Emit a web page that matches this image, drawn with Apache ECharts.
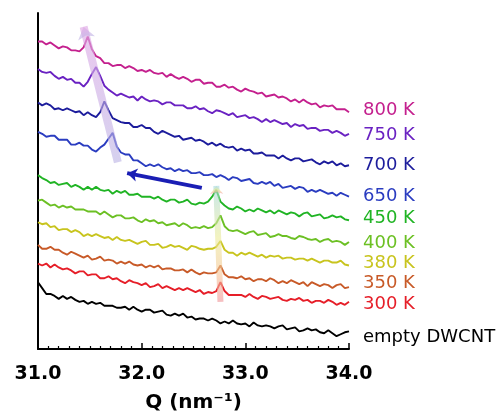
<!DOCTYPE html>
<html>
<head>
<meta charset="utf-8">
<script src="https://cdn.jsdelivr.net/npm/echarts@6/dist/echarts.min.js"></script>
<style>html,body{margin:0;padding:0;background:#fff;}#c{width:498px;height:418px;}</style>
</head>
<body>
<div id="c"></div>
<script>
// Q grid (nm^-1)
const q = [31.00,31.04,31.08,31.12,31.16,31.20,31.24,31.28,31.32,31.36,
31.40,31.44,31.48,31.52,31.56,31.60,31.64,31.68,31.72,31.76,
31.80,31.84,31.88,31.92,31.96,32.00,32.04,32.08,32.12,32.16,
32.20,32.24,32.28,32.32,32.36,32.40,32.44,32.48,32.52,32.56,
32.60,32.64,32.68,32.72,32.76,32.80,32.84,32.88,32.92,32.96,
33.00,33.04,33.08,33.12,33.16,33.20,33.24,33.28,33.32,33.36,
33.40,33.44,33.48,33.52,33.56,33.60,33.64,33.68,33.72,33.76,
33.80,33.84,33.88,33.92,33.96,34.00];

// offset intensities (arb. units)
const i800 = [313,313,310,312,309,306,308,307,304,304,303,307,318,305,298,296,291,291,288,289,
289,286,288,286,283,284,282,284,281,280,281,277,280,277,275,277,275,272,274,274,
270,271,271,267,267,269,266,267,264,262,265,263,262,260,261,257,258,259,256,257,
255,252,254,251,254,251,249,250,246,248,247,248,244,244,244,241];
const i750 = [285,282,281,282,278,275,277,274,275,271,271,267,272,280,287,278,268,264,261,258,
260,258,256,257,253,257,254,252,253,252,249,251,251,248,248,248,245,245,247,244,
245,242,240,243,242,240,238,240,236,237,238,235,236,234,231,234,231,233,231,229,
230,226,229,227,228,224,225,225,222,223,223,220,222,220,217,219];
const i700 = [251,248,250,248,244,245,243,245,243,241,242,238,241,238,236,241,252,243,235,233,
231,230,230,226,226,228,225,225,221,219,222,220,218,216,217,213,214,215,212,213,
211,208,210,207,209,206,205,206,202,204,202,203,199,199,200,197,197,197,194,197,
194,192,194,194,191,192,193,190,188,191,189,191,187,189,186,187];
const i650 = [221,219,216,217,217,213,213,213,208,208,210,207,207,203,201,205,208,214,220,206,
200,198,198,192,192,189,186,188,186,188,185,183,184,181,183,181,182,179,179,180,
177,177,178,175,177,175,172,175,174,171,172,173,169,168,170,168,170,166,168,164,
165,166,163,165,164,160,162,160,162,160,158,159,156,159,157,155];
const i450 = [177,174,172,169,170,167,168,169,165,167,165,162,165,162,165,162,161,162,158,161,
159,161,157,157,158,155,155,155,153,155,152,150,152,152,149,150,152,148,147,149,
148,150,155,162,150,146,143,142,145,143,140,142,140,143,141,139,141,138,141,139,
137,139,138,135,138,139,135,136,137,133,134,136,134,135,132,131];
const i400 = [151,152,149,146,147,144,146,144,145,142,142,142,140,140,140,137,140,137,134,136,
136,133,133,134,131,129,132,130,131,128,129,126,127,128,125,128,126,123,124,123,
125,123,124,128,136,125,121,120,121,119,117,119,120,116,117,118,114,115,117,115,
115,113,112,115,114,112,111,112,109,111,112,109,110,109,106,109];
const i380 = [129,127,128,124,125,121,122,122,119,121,119,115,117,115,117,115,113,114,111,114,
111,110,111,109,107,109,110,106,106,107,103,104,106,104,105,103,101,105,104,102,
101,102,102,104,110,101,98,98,95,98,96,98,96,94,96,93,95,94,95,92,
93,93,91,92,92,90,92,90,88,90,90,88,88,90,86,85];
const i350 = [106,102,102,104,101,101,98,96,99,97,95,93,95,91,92,94,90,91,90,87,
89,87,89,86,85,86,83,85,83,85,81,82,82,80,80,81,78,81,78,76,
78,77,77,78,85,76,73,73,72,74,71,72,69,71,71,69,72,70,67,69,
67,70,68,66,68,64,68,66,64,66,65,62,65,66,62,63];
const i300 = [87,85,87,83,86,83,81,82,80,77,79,79,75,76,76,72,72,74,71,72,
69,67,70,68,67,65,67,63,64,66,62,64,62,60,62,60,62,60,58,60,
56,58,57,59,68,59,55,55,55,55,53,56,53,51,54,53,51,52,53,50,
49,51,50,52,49,50,47,49,49,47,50,48,45,47,45,48];
const iEmpty = [68,62,56,56,54,51,54,51,53,50,48,49,46,48,46,47,44,44,44,42,
42,43,40,43,40,38,40,40,37,38,39,35,34,36,34,36,32,33,30,31,
31,29,31,29,26,28,26,29,26,25,26,23,27,24,23,24,23,21,23,24,
20,21,22,18,19,21,19,20,17,16,19,16,13,15,17,18];

const names = ['800 K','750 K','700 K','650 K','450 K','400 K','380 K','350 K','300 K','empty DWCNT'];
const values = [i800,i750,i700,i650,i450,i400,i380,i350,i300,iEmpty];
const colors = ['#c4208e','#6a22c2','#1c1c9c','#2a3cc0','#20b424','#6cc024','#c8c41e','#c85a28','#e61e28','#000000'];
const labelDy = [-2,1,0,0,-2,1,-2,-4,2,6];

// annotation arrows [start, end] in data coords
const arrowShift = [[31.77,190],[31.44,328]];
const arrowMove = [[32.58,164],[31.86,179]];
const arrowRise = [[32.76,48],[32.72,166]];

const FONT = 'DejaVu Sans';
const chart = echarts.init(document.getElementById('c'), null, {renderer:'canvas'});

const series = names.map((n, s) => ({
  name: n, type: 'line', showSymbol: false, symbol: 'none', animation: false,
  data: q.map((x, i) => [x, values[s][i]]),
  lineStyle: {color: colors[s], width: 1.9},
  itemStyle: {color: colors[s]},
  z: 3,
  endLabel: {
    show: true, formatter: n, color: colors[s], fontSize: 18, fontFamily: FONT,
    distance: 14, offset: [0, labelDy[s]]
  }
}));

series.push({
  type: 'line', data: [], animation: false, z: 1, silent: true,
  markLine: {
    silent: true, animation: false, label: {show: false},
    symbol: ['none', 'arrow'],
    data: [
      [{coord: arrowShift[0], symbol:'none', lineStyle: {width: 8, type:'solid',
          color: {type:'linear', x:0, y:0, x2:0, y2:1, colorStops:[
            {offset:0, color:'rgba(225,170,230,0.65)'},{offset:1, color:'rgba(185,178,228,0.6)'}]}}},
       {coord: arrowShift[1], symbol:'arrow', symbolSize:[13,12]}],
      [{coord: arrowMove[0], symbol:'none', lineStyle: {width: 4, type:'solid', color:'#1a1eb4'}},
       {coord: arrowMove[1], symbol:'arrow', symbolSize:[10,10]}],
      [{coord: arrowRise[0], symbol:'none', lineStyle: {width: 6, type:'solid',
          color: {type:'linear', x:0, y:0, x2:0, y2:1, colorStops:[
            {offset:0, color:'rgba(160,215,225,0.6)'},
            {offset:0.45, color:'rgba(235,235,150,0.6)'},
            {offset:0.75, color:'rgba(245,195,150,0.6)'},
            {offset:1, color:'rgba(240,150,160,0.65)'}]}}},
       {coord: arrowRise[1], symbol:'arrow', symbolSize:[10,8]}]
    ]
  }
});

chart.setOption({
  animation: false,
  backgroundColor: '#ffffff',
  grid: {left: 38, top: 13, width: 311, height: 342, containLabel: false},
  xAxis: {
    type: 'value', min: 31, max: 34, interval: 1,
    axisLine: {show: true, lineStyle: {color: '#000', width: 2}},
    axisTick: {show: true, inside: true, length: 6, lineStyle: {color:'#000', width: 1.5}},
    minorTick: {show: true, splitNumber: 10, length: 3, lineStyle: {color:'#000', width: 1.2}},
    splitLine: {show: false}, minorSplitLine: {show: false},
    axisLabel: {formatter: v => v.toFixed(1), color: '#000', fontSize: 19, fontWeight: 'bold', fontFamily: FONT, margin: 16},
    name: 'Q (nm⁻¹)', nameLocation: 'middle', nameGap: 44,
    nameTextStyle: {color: '#000', fontSize: 20, fontWeight: 'bold', fontFamily: FONT}
  },
  yAxis: {
    type: 'value', min: 0, max: 342,
    axisLine: {show: true, onZero: false, lineStyle: {color: '#000', width: 2}},
    axisTick: {show: false}, axisLabel: {show: false}, splitLine: {show: false}
  },
  series: series
});
</script>
</body>
</html>
